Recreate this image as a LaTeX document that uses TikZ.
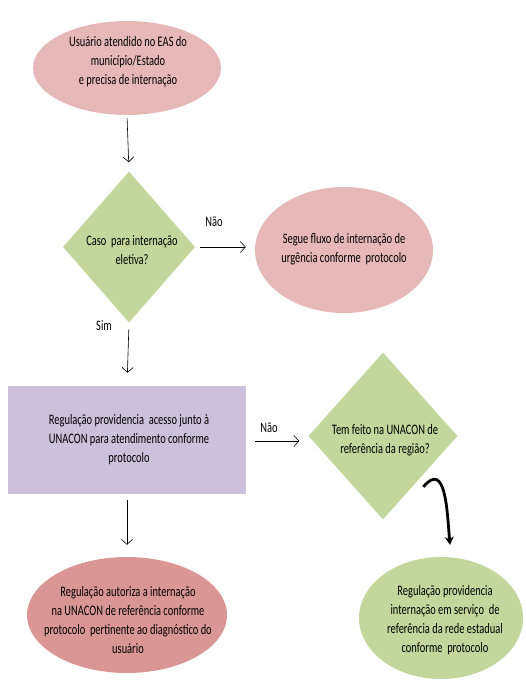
\documentclass[tikz,border=0pt]{standalone}
\usepackage{fontspec}
\setmainfont{Carlito}[FakeStretch=0.72]
\usetikzlibrary{shapes.geometric,arrows.meta}
\definecolor{pinkA}{HTML}{E6B9B8}
\definecolor{greenA}{HTML}{C3D69B}
\definecolor{lavA}{HTML}{CCC0DA}
\definecolor{redA}{HTML}{D99694}
\tikzset{
  ell/.style={ellipse,inner sep=0pt,draw=none},
  dia/.style={diamond,inner sep=0pt,draw=none,fill=greenA},
  txt/.style={align=center,font=\fontsize{14.5}{19}\selectfont,inner sep=0pt},
  lbl/.style={font=\fontsize{14.5}{19}\selectfont,inner sep=0pt},
  arr/.style={draw=black,line width=0.6pt,-{Straight Barb[length=5pt,width=11pt]}},
  bigarr/.style={draw=black,line width=2.8pt,-{Stealth[length=8pt,width=9pt]}}
}
\begin{document}
\begin{tikzpicture}[x=1pt,y=-1pt]
\useasboundingbox (0,0) rectangle (525,680);
% shapes
\node[ell,fill=pinkA,minimum width=188,minimum height=94] (e1) at (127,68) {};
\node[dia,minimum width=132,minimum height=151] (d1) at (129,247) {};
\node[ell,fill=pinkA,minimum width=178,minimum height=126] (e2) at (344,250) {};
\node[rectangle,fill=lavA,draw=none,minimum width=238,minimum height=108,inner sep=0pt] (r) at (127,440) {};
\node[dia,minimum width=149,minimum height=167] (d2) at (383,436) {};
\node[ell,fill=redA,minimum width=200,minimum height=116] (e3) at (127,615) {};
\node[ell,fill=greenA,minimum width=164,minimum height=122] (e4) at (441,618) {};
% texts
\node[txt] (t1) at (128,62) {Usuário atendido no EAS do\\município/Estado\\e precisa de internação};
\node[txt] (t2) at (132,250) {Caso\ \ para internação\\eletiva?};
\node[txt] (t3) at (344,249) {Segue fluxo de internação de\\urgência conforme\ \ protocolo};
\node[txt] (t4) at (129,440) {Regulação providencia\ \ acesso junto à\\UNACON para atendimento conforme\\protocolo};
\node[txt] (t5) at (385,440) {Tem feito na UNACON de\\referência da região?};
\node[txt] (t6) at (128,620) {Regulação autoriza a internação\\na UNACON de referência conforme\\protocolo\ \ pertinente ao diagnóstico do\\usuário};
\node[txt] (t7) at (445,620) {Regulação providencia\\internação em serviço\ \ de\\referência da rede estadual\\conforme\ \ protocolo};
% labels
\node[lbl] (n1) at (214,222) {Não};
\node[lbl] (s1) at (104,326) {Sim};
\node[lbl] (n2) at (269,428) {Não};
% connectors
\draw[arr,shorten <=3pt,shorten >=9pt] (e1.south) -- (d1.north);
\draw[arr,shorten <=5pt,shorten >=9pt] (d1.east) -- (d1.east -| e2.west);
\draw[arr,shorten <=7pt,shorten >=13pt] (d1.south) -- (r.north);
\draw[arr,shorten <=9pt,shorten >=9pt] ([yshift=-1pt]r.east) -- ([yshift=-1pt]r.east -| d2.west);
\draw[arr,shorten <=6pt,shorten >=12pt] (r.south) -- (e3.north);
\draw[bigarr] ([xshift=3pt,yshift=-9pt]d2.south east) to[out=50,in=95,looseness=1.4] ([xshift=9pt,yshift=12pt]e4.north);
\end{tikzpicture}
\end{document}
